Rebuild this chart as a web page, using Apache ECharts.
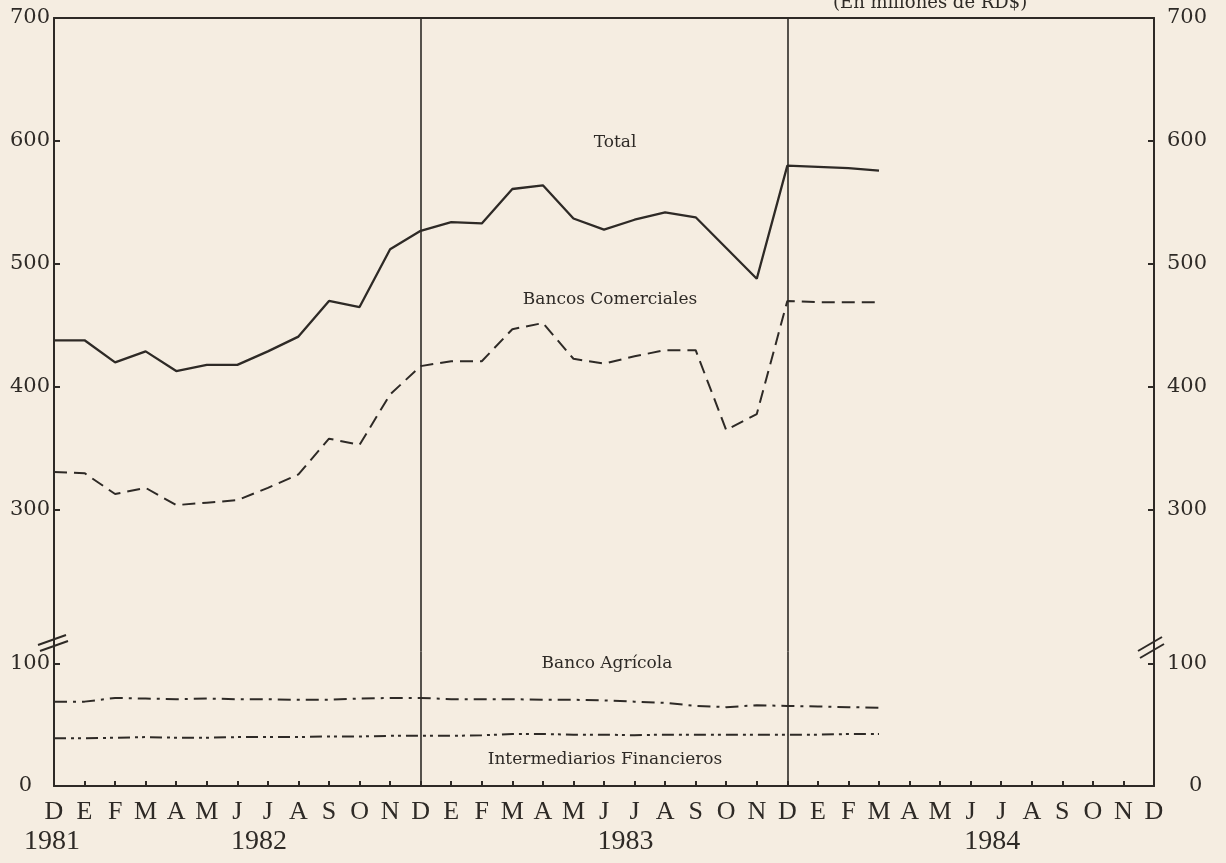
<!DOCTYPE html>
<html>
<head>
<meta charset="utf-8">
<script src="https://cdn.jsdelivr.net/npm/echarts@6/dist/echarts.min.js"></script>
<style>
html,body{margin:0;padding:0;background:#f5ede1;}
#c{width:1226px;height:863px;}
</style>
</head>
<body>
<div id="c"></div>
<script>
// ---- Data (En millones de RD$), monthly Dec 1981 .. Dec 1984 ----
const monthLabels = ['D','E','F','M','A','M','J','J','A','S','O','N',
                     'D','E','F','M','A','M','J','J','A','S','O','N',
                     'D','E','F','M','A','M','J','J','A','S','O','N','D'];
const yearIndex = [0, 7, 19, 31];
const yearText  = ['1981', '1982', '1983', '1984'];

// Dec81 .. Mar84 (28 months)
const total = [438, 438, 420, 429, 413, 418, 418, 429, 441, 470, 465, 512,
               527, 534, 533, 561, 564, 537, 528, 536, 542, 538, 513, 488,
               580, 579, 578, 576];
const bancosComerciales = [331, 330, 313, 318, 304, 306, 308, 318, 329, 358, 353, 394,
                           417, 421, 421, 447, 452, 423, 419, 425, 430, 430, 365, 378,
                           470, 469, 469, 469];
const bancoAgricola = [69, 69, 72, 71.5, 71, 71.5, 71, 71, 70.5, 70.5, 71.5, 72,
                       72, 71, 71, 71, 70.5, 70.5, 70, 69, 68, 65.5, 64.5, 66,
                       65.5, 65, 64.5, 64];
const intermediarios = [39, 39, 39.5, 40, 39.5, 39.5, 40, 40, 40, 40.5, 40.5, 41,
                        41, 41, 41.5, 42.5, 42.5, 42, 42, 41.5, 42, 42, 42, 42,
                        42, 42, 42.5, 42.5];

const upperTicks = [300, 400, 500, 600, 700];
const lowerTicks = [0, 100];

// ---- Styling ----
const ink = '#2e2a26';
const categories = monthLabels.map((m, i) => String(i));
const dividers = [12, 24];

const chart = echarts.init(document.getElementById('c'), null, {renderer: 'canvas'});

const numFont = {fontFamily: 'DejaVu Serif', fontSize: 21, color: ink};

function yAxisDef(grid, pos, min, max, ticks, margin, zeroPad) {
  return {
    gridIndex: grid, type: 'value', position: pos, min: min, max: max,
    axisLine: {show: true, lineStyle: {color: ink, width: 2}},
    axisTick: {show: true, inside: true, length: 6, customValues: ticks, lineStyle: {color: ink, width: 2}},
    axisLabel: Object.assign({
      customValues: ticks, margin: margin,
      formatter: v => v === 0 ? '{z|0}' : String(v),
      rich: {z: Object.assign({}, numFont, {padding: zeroPad})}
    }, numFont),
    splitLine: {show: false}
  };
}

const splitLineDef = {
  show: true,
  interval: (i) => dividers.indexOf(i) >= 0,
  lineStyle: {color: ink, width: 1.6}
};

const option = {
  backgroundColor: '#f5ede1',
  animation: false,
  grid: [
    {left: 54, right: 72, top: 18, height: 633.5},
    {left: 54, right: 72, top: 651.5, height: 134.5}
  ],
  xAxis: [
    {
      gridIndex: 0, type: 'category', data: categories, boundaryGap: false, position: 'top',
      axisLine: {show: true, lineStyle: {color: ink, width: 2.2}},
      axisTick: {show: false}, axisLabel: {show: false},
      splitLine: splitLineDef
    },
    {
      gridIndex: 1, type: 'category', data: categories, boundaryGap: false, position: 'bottom',
      axisLine: {show: true, lineStyle: {color: ink, width: 2.2}},
      axisTick: {show: true, inside: true, length: 5, interval: 0, lineStyle: {color: ink, width: 2}},
      axisLabel: {
        interval: 0, margin: 12,
        formatter: function (value, index) {
          let s = '{m|' + monthLabels[index] + '}';
          const yi = yearIndex.indexOf(index);
          if (yi >= 0) s += '\n{' + (index === 0 ? 'y0' : 'y') + '|' + yearText[yi] + '}';
          return s;
        },
        rich: {
          m: {fontFamily: 'Liberation Serif', fontSize: 26, lineHeight: 28, color: ink},
          y: {fontFamily: 'Liberation Serif', fontSize: 28, lineHeight: 32, color: ink, padding: [0, 18, 0, 0]},
          y0: {fontFamily: 'Liberation Serif', fontSize: 28, lineHeight: 32, color: ink, padding: [0, 4, 0, 0]}
        }
      },
      splitLine: splitLineDef
    }
  ],
  yAxis: [
    yAxisDef(0, 'left', 185, 700, upperTicks, 4, [0, 0, 0, 0]),
    yAxisDef(0, 'right', 185, 700, upperTicks, 13, [0, 0, 0, 0]),
    yAxisDef(1, 'left', 0, 110, lowerTicks, 4, [0, 18, 0, 0]),
    yAxisDef(1, 'right', 0, 110, lowerTicks, 13, [0, 0, 0, 22])
  ],
  series: [
    {
      name: 'Total', type: 'line', xAxisIndex: 0, yAxisIndex: 0, data: total,
      symbol: 'none', silent: true,
      lineStyle: {color: ink, width: 2.3, type: 'solid'}
    },
    {
      name: 'Bancos Comerciales', type: 'line', xAxisIndex: 0, yAxisIndex: 0, data: bancosComerciales,
      symbol: 'none', silent: true,
      lineStyle: {color: ink, width: 2, type: [13, 7]}
    },
    {
      name: 'Banco Agrícola', type: 'line', xAxisIndex: 1, yAxisIndex: 2, data: bancoAgricola,
      symbol: 'none', silent: true,
      lineStyle: {color: ink, width: 2, type: [13, 6, 3, 6]}
    },
    {
      name: 'Intermediarios Financieros', type: 'line', xAxisIndex: 1, yAxisIndex: 2, data: intermediarios,
      symbol: 'none', silent: true,
      lineStyle: {color: ink, width: 2, type: [12, 5, 3, 4, 3, 5]}
    }
  ],
  graphic: [
    {type: 'text', left: 833, top: -6, silent: true,
     style: {text: '(En millones de RD$)', font: '18px "DejaVu Serif"', fill: ink}},
    {type: 'text', x: 615, y: 143, silent: true,
     style: {text: 'Total', font: '17px "DejaVu Serif"', fill: ink, align: 'center', verticalAlign: 'middle'}},
    {type: 'text', x: 610, y: 300, silent: true,
     style: {text: 'Bancos Comerciales', font: '17px "DejaVu Serif"', fill: ink, align: 'center', verticalAlign: 'middle'}},
    {type: 'text', x: 607, y: 664, silent: true,
     style: {text: 'Banco Agrícola', font: '17px "DejaVu Serif"', fill: ink, align: 'center', verticalAlign: 'middle'}},
    {type: 'text', x: 605, y: 760, silent: true,
     style: {text: 'Intermediarios Financieros', font: '17px "DejaVu Serif"', fill: ink, align: 'center', verticalAlign: 'middle'}},
    // axis-break marks
    {type: 'line', silent: true, shape: {x1: 38, y1: 645, x2: 66, y2: 635}, style: {stroke: ink, lineWidth: 2}},
    {type: 'line', silent: true, shape: {x1: 40, y1: 651, x2: 68, y2: 641}, style: {stroke: ink, lineWidth: 2}},
    {type: 'line', silent: true, shape: {x1: 1138, y1: 651, x2: 1162, y2: 637}, style: {stroke: ink, lineWidth: 2}},
    {type: 'line', silent: true, shape: {x1: 1140, y1: 658, x2: 1164, y2: 644}, style: {stroke: ink, lineWidth: 2}}
  ]
};

chart.setOption(option);
</script>
</body>
</html>
